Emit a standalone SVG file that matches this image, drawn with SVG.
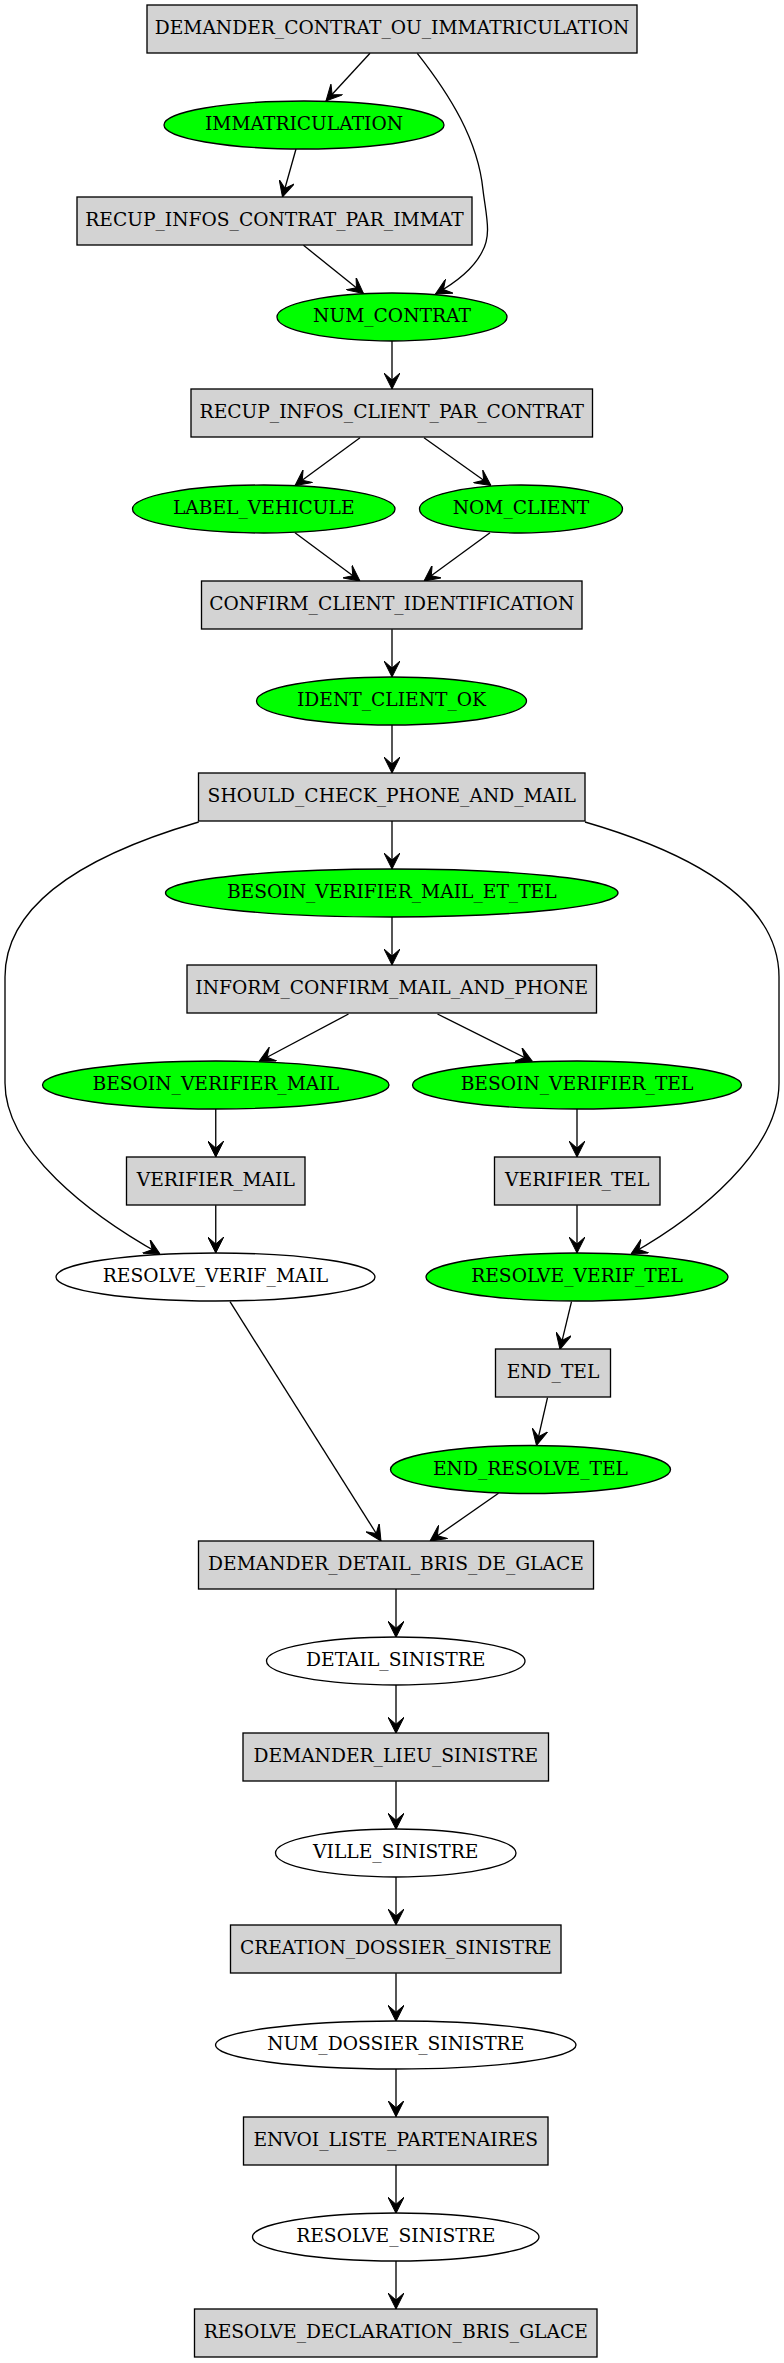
<svg xmlns="http://www.w3.org/2000/svg" width="784" height="2363" viewBox="0 0 784 2363">
<style>
.box{fill:#d3d3d3;stroke:#000;stroke-width:1.33}
.g{fill:#00ff00;stroke:#000;stroke-width:1.33}
.w{fill:#fff;stroke:#000;stroke-width:1.33}
text{font-family:"DejaVu Serif","Liberation Serif",serif;font-size:18.67px;text-anchor:middle;fill:#000}
.e path{fill:none;stroke:#000;stroke-width:1.33;marker-end:url(#ah)}
</style>
<defs>
<marker id="ah" markerUnits="userSpaceOnUse" viewBox="0 -8 16 16" refX="16" refY="0" markerWidth="16" markerHeight="16" orient="auto">
<path d="M0,-8 L16,0 L0,8 L7,0 Z" fill="#000" stroke="#000" stroke-width="1"/>
</marker>
</defs>
<rect width="784" height="2363" fill="#fff"/>
<g id="edges" class="e">
<path d="M370,53.3 L326,101"/>
<path d="M417.3,53.3 C450,95 478,140 483,190 C486,215 492,235 482,252 C474,268 455,283 435.5,294"/>
<path d="M296,149 L282.5,197"/>
<path d="M303.5,245.3 L363.5,293.5"/>
<path d="M392,341 L392,389"/>
<path d="M360,437.7 L295,485.5"/>
<path d="M424,437.7 L491,485.5"/>
<path d="M295,532.7 L360,581"/>
<path d="M490,532.7 L424,581"/>
<path d="M392,629.3 L392,677"/>
<path d="M392,725 L392,773"/>
<path d="M392,821 L392,869"/>
<path d="M198.7,822 C120,845 5,890 5,977 L5,1083 C5,1150 90,1215 160,1254"/>
<path d="M585,822 C664,845 779,890 779,977 L779,1083 C779,1150 700,1215 631,1254"/>
<path d="M392,917 L392,965"/>
<path d="M348.5,1014 L259,1061.5"/>
<path d="M437.5,1014 L532.5,1061.5"/>
<path d="M215.75,1109 L215.75,1157"/>
<path d="M577,1109 L577,1157"/>
<path d="M215.75,1205.3 L215.75,1253"/>
<path d="M577,1205.3 L577,1253"/>
<path d="M571.5,1301.7 L560,1349.3"/>
<path d="M547.5,1397.7 L536.5,1445.5"/>
<path d="M230,1301.7 L381,1541"/>
<path d="M498.5,1493.3 L430,1541"/>
<path d="M396,1589 L396,1637.3"/>
<path d="M396,1684.7 L396,1733.3"/>
<path d="M396,1781.3 L396,1829.3"/>
<path d="M396,1877 L396,1925"/>
<path d="M396,1973.3 L396,2021.3"/>
<path d="M396,2068.7 L396,2116.7"/>
<path d="M396,2165 L396,2213.3"/>
<path d="M396,2260.7 L396,2309"/>
</g>
<g id="DEMANDER_CONTRAT_OU_IMMATRICULATION"><rect class="box" x="147" y="5" width="490" height="48"/><text x="392" y="34">DEMANDER_CONTRAT_OU_IMMATRICULATION</text></g>
<g id="IMMATRICULATION"><ellipse class="g" cx="304" cy="125" rx="140" ry="24"/><text x="304" y="130">IMMATRICULATION</text></g>
<g id="RECUP_INFOS_CONTRAT_PAR_IMMAT"><rect class="box" x="77" y="197" width="395" height="48"/><text x="274.5" y="226">RECUP_INFOS_CONTRAT_PAR_IMMAT</text></g>
<g id="NUM_CONTRAT"><ellipse class="g" cx="392" cy="317" rx="115" ry="24"/><text x="392" y="322">NUM_CONTRAT</text></g>
<g id="RECUP_INFOS_CLIENT_PAR_CONTRAT"><rect class="box" x="191" y="389" width="401.5" height="48"/><text x="391.75" y="418">RECUP_INFOS_CLIENT_PAR_CONTRAT</text></g>
<g id="LABEL_VEHICULE"><ellipse class="g" cx="263.75" cy="509" rx="131.25" ry="24"/><text x="263.75" y="514">LABEL_VEHICULE</text></g>
<g id="NOM_CLIENT"><ellipse class="g" cx="521" cy="509" rx="101.5" ry="24"/><text x="521" y="514">NOM_CLIENT</text></g>
<g id="CONFIRM_CLIENT_IDENTIFICATION"><rect class="box" x="201.5" y="581" width="380.5" height="48"/><text x="391.75" y="610">CONFIRM_CLIENT_IDENTIFICATION</text></g>
<g id="IDENT_CLIENT_OK"><ellipse class="g" cx="391.5" cy="701" rx="135" ry="24"/><text x="391.5" y="706">IDENT_CLIENT_OK</text></g>
<g id="SHOULD_CHECK_PHONE_AND_MAIL"><rect class="box" x="198.5" y="773" width="386.5" height="48"/><text x="391.75" y="802">SHOULD_CHECK_PHONE_AND_MAIL</text></g>
<g id="BESOIN_VERIFIER_MAIL_ET_TEL"><ellipse class="g" cx="391.75" cy="893" rx="226.25" ry="24"/><text x="391.75" y="898">BESOIN_VERIFIER_MAIL_ET_TEL</text></g>
<g id="INFORM_CONFIRM_MAIL_AND_PHONE"><rect class="box" x="187" y="965" width="409.5" height="48"/><text x="391.75" y="994">INFORM_CONFIRM_MAIL_AND_PHONE</text></g>
<g id="BESOIN_VERIFIER_MAIL"><ellipse class="g" cx="215.75" cy="1085" rx="173.25" ry="24"/><text x="215.75" y="1090">BESOIN_VERIFIER_MAIL</text></g>
<g id="BESOIN_VERIFIER_TEL"><ellipse class="g" cx="577" cy="1085" rx="164.5" ry="24"/><text x="577" y="1090">BESOIN_VERIFIER_TEL</text></g>
<g id="VERIFIER_MAIL"><rect class="box" x="126.5" y="1157" width="178.5" height="48"/><text x="215.75" y="1186">VERIFIER_MAIL</text></g>
<g id="VERIFIER_TEL"><rect class="box" x="494.5" y="1157" width="165.5" height="48"/><text x="577.25" y="1186">VERIFIER_TEL</text></g>
<g id="RESOLVE_VERIF_MAIL"><ellipse class="w" cx="215.5" cy="1277" rx="159.5" ry="24"/><text x="215.5" y="1282">RESOLVE_VERIF_MAIL</text></g>
<g id="RESOLVE_VERIF_TEL"><ellipse class="g" cx="577" cy="1277" rx="151" ry="24"/><text x="577" y="1282">RESOLVE_VERIF_TEL</text></g>
<g id="END_TEL"><rect class="box" x="495.5" y="1349" width="115" height="48"/><text x="553" y="1378">END_TEL</text></g>
<g id="END_RESOLVE_TEL"><ellipse class="g" cx="530.5" cy="1469.5" rx="140" ry="24"/><text x="530.5" y="1474.5">END_RESOLVE_TEL</text></g>
<g id="DEMANDER_DETAIL_BRIS_DE_GLACE"><rect class="box" x="198.5" y="1541" width="395" height="48"/><text x="396" y="1570">DEMANDER_DETAIL_BRIS_DE_GLACE</text></g>
<g id="DETAIL_SINISTRE"><ellipse class="w" cx="395.75" cy="1661" rx="129.25" ry="24"/><text x="395.75" y="1666">DETAIL_SINISTRE</text></g>
<g id="DEMANDER_LIEU_SINISTRE"><rect class="box" x="243" y="1733" width="305.5" height="48"/><text x="395.75" y="1762">DEMANDER_LIEU_SINISTRE</text></g>
<g id="VILLE_SINISTRE"><ellipse class="w" cx="395.75" cy="1853" rx="120.25" ry="24"/><text x="395.75" y="1858">VILLE_SINISTRE</text></g>
<g id="CREATION_DOSSIER_SINISTRE"><rect class="box" x="230.5" y="1925" width="330.5" height="48"/><text x="395.75" y="1954">CREATION_DOSSIER_SINISTRE</text></g>
<g id="NUM_DOSSIER_SINISTRE"><ellipse class="w" cx="395.75" cy="2045" rx="180.25" ry="24"/><text x="395.75" y="2050">NUM_DOSSIER_SINISTRE</text></g>
<g id="ENVOI_LISTE_PARTENAIRES"><rect class="box" x="243.5" y="2117" width="304.5" height="48"/><text x="395.75" y="2146">ENVOI_LISTE_PARTENAIRES</text></g>
<g id="RESOLVE_SINISTRE"><ellipse class="w" cx="395.75" cy="2237" rx="143.25" ry="24"/><text x="395.75" y="2242">RESOLVE_SINISTRE</text></g>
<g id="RESOLVE_DECLARATION_BRIS_GLACE"><rect class="box" x="194.5" y="2309" width="402.5" height="48"/><text x="395.75" y="2338">RESOLVE_DECLARATION_BRIS_GLACE</text></g>
</svg>
